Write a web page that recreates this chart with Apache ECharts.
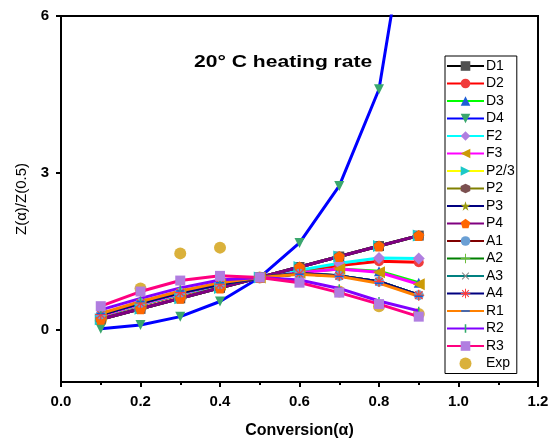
<!DOCTYPE html>
<html>
<head>
<meta charset="utf-8">
<script src="https://cdn.jsdelivr.net/npm/echarts@6/dist/echarts.min.js"></script>
<style>
  html, body { margin: 0; padding: 0; background: #fff; }
  #chart { width: 554px; height: 448px; }
</style>
</head>
<body>
<div id="chart"></div>
<script>
// conversion values (x)
const alpha = [0.1, 0.2, 0.3, 0.4, 0.5, 0.6, 0.7, 0.8, 0.9];

// Z(a)/Z(0.5) for each model
const d1 = [0.2, 0.4, 0.6, 0.8, 1.0, 1.2, 1.4, 1.6, 1.8];
const d2 = [0.26, 0.47, 0.67, 0.85, 1.0, 1.13, 1.23, 1.31, 1.29];
const d3 = [0.27, 0.48, 0.68, 0.85, 1.0, 1.1, 1.16, 1.12, 0.9];
const d4 = [0.02, 0.09, 0.25, 0.54, 1.0, 1.66, 2.75, 4.6, 9.2];
const f2 = [0.27, 0.48, 0.68, 0.86, 1.0, 1.14, 1.27, 1.37, 1.36];
const f3 = [0.27, 0.49, 0.69, 0.86, 1.0, 1.09, 1.16, 1.1, 0.87];
const p23 = [0.2, 0.4, 0.6, 0.8, 1.0, 1.2, 1.4, 1.6, 1.8];
const p2 = [0.2, 0.4, 0.6, 0.8, 1.0, 1.2, 1.4, 1.6, 1.8];
const p3 = [0.2, 0.4, 0.6, 0.8, 1.0, 1.2, 1.4, 1.6, 1.8];
const p4 = [0.2, 0.4, 0.6, 0.8, 1.0, 1.2, 1.4, 1.6, 1.8];
const a1 = [0.29, 0.51, 0.71, 0.87, 1.0, 1.07, 1.03, 0.92, 0.66];
const a2 = [0.29, 0.51, 0.71, 0.87, 1.0, 1.07, 1.03, 0.92, 0.66];
const a3 = [0.29, 0.51, 0.71, 0.87, 1.0, 1.07, 1.03, 0.92, 0.66];
const a4 = [0.29, 0.51, 0.71, 0.87, 1.0, 1.07, 1.03, 0.92, 0.66];
const r1 = [0.31, 0.54, 0.74, 0.9, 1.0, 1.06, 1.02, 0.89, 0.64];
const r2 = [0.38, 0.6, 0.8, 0.95, 1.0, 0.95, 0.79, 0.55, 0.36];
const r3 = [0.45, 0.73, 0.94, 1.03, 1.0, 0.9, 0.71, 0.49, 0.25];
const expData = [0.17, 0.79, 1.46, 1.57, 1.0, 1.11, 0.73, 0.45, 0.3];

const xTicks = [0, 0.2, 0.4, 0.6, 0.8, 1.0, 1.2];
const yTicks = [0, 3, 6];

// marker shapes; the tiny corner triangles keep a square bounding box for thin marks
const CORNERS = ' M0,0 L0.1,0 L0,0.1 Z M100,100 L99.9,100 L100,99.9 Z';
const HEXAGON = 'path://M50,0 L100,25 L100,75 L50,100 L0,75 L0,25 Z';
const PENTAGON = 'path://M50,0 L100,38 L81,100 L19,100 L0,38 Z';
const STAR = 'path://M50,0 L61,35 L98,35 L68,57 L79,92 L50,70 L21,92 L32,57 L2,35 L39,35 Z';
const PLUS = 'path://M45,0 H55 V45 H100 V55 H55 V100 H45 V55 H0 V45 H45 Z';
const ASTER = 'path://M45,0 H55 V45 H100 V55 H55 V100 H45 V55 H0 V45 H45 Z' +
  ' M18.5,11.5 L88.5,81.5 L81.5,88.5 L11.5,18.5 Z M81.5,11.5 L88.5,18.5 L18.5,88.5 L11.5,81.5 Z';
const BAR_H = 'path://M5,42 H95 V58 H5 Z' + CORNERS;
const BAR_V = 'path://M42,5 H58 V95 H42 Z' + CORNERS;

function pairs(ys) {
  return alpha.map((a, i) => [a, ys[i]]);
}

function lineSeries(name, ys, lineColor, symbol, symbolColor, extra) {
  return Object.assign({
    name: name,
    type: 'line',
    data: pairs(ys),
    symbol: symbol,
    symbolSize: 10,
    lineStyle: { color: lineColor, width: 3 },
    itemStyle: { color: symbolColor },
    emphasis: { disabled: true },
    animation: false
  }, extra || {});
}

const series = [
  lineSeries('D1', d1, '#000000', 'rect', '#505050'),
  lineSeries('D2', d2, '#ff0000', 'circle', '#f03c3c'),
  lineSeries('D3', d3, '#00ff00', 'triangle', '#1f5fd6'),
  lineSeries('D4', d4, '#0000ff', 'triangle', '#3aa76d', { symbolRotate: 180 }),
  lineSeries('F2', f2, '#00ffff', 'diamond', '#b07ee0', { symbolSize: 12 }),
  lineSeries('F3', f3, '#ff00ff', 'triangle', '#cc9a06', { symbolRotate: 90, symbolSize: 12 }),
  lineSeries('P2/3', p23, '#ffff00', 'triangle', '#1cc8c8', { symbolRotate: -90, symbolSize: 12 }),
  lineSeries('P2', p2, '#808000', HEXAGON, '#7b5050'),
  lineSeries('P3', p3, '#000080', STAR, '#9a9a10', { symbolSize: 11 }),
  lineSeries('P4', p4, '#800080', PENTAGON, '#ff6600', { symbolSize: 11 }),
  lineSeries('A1', a1, '#800000', 'circle', '#6a9fd4'),
  lineSeries('A2', a2, '#008000', PLUS, '#66bb33'),
  lineSeries('A3', a3, '#008080', PLUS, '#888888', { symbolRotate: 45 }),
  lineSeries('A4', a4, '#000080', ASTER, '#ff3b3b', { symbolSize: 11 }),
  lineSeries('R1', r1, '#ff8000', BAR_H, '#1060e0', { symbolSize: 9 }),
  lineSeries('R2', r2, '#8000ff', BAR_V, '#2faa6a', { symbolSize: 9 }),
  lineSeries('R3', r3, '#ff0080', 'rect', '#b07ee0'),
  {
    name: 'Exp',
    type: 'scatter',
    data: pairs(expData),
    symbol: 'circle',
    symbolSize: 12,
    itemStyle: { color: '#d19e0a' },
    emphasis: { disabled: true },
    animation: false
  }
];

const chart = echarts.init(document.getElementById('chart'));

chart.setOption({
  animation: false,
  grid: {
    left: 61,
    right: 16,
    top: 16,
    bottom: 66,
    show: true,
    borderColor: '#000',
    borderWidth: 2
  },
  legend: {
    orient: 'vertical',
    left: 445,
    top: 56,
    padding: [3, 2, 3, 1],
    itemWidth: 37,
    itemHeight: 12,
    itemGap: 3.5,
    borderColor: '#000',
    borderWidth: 1,
    borderRadius: 0,
    backgroundColor: '#fff',
    textStyle: {
      fontFamily: 'Liberation Sans, Arial, sans-serif',
      fontSize: 14,
      lineHeight: 14,
      color: '#000',
      padding: [0, 0, 0, -3]
    },
    data: series.map((s) => s.name)
  },
  graphic: [
    {
      type: 'text',
      left: 194,
      top: 54,
      scaleX: 1.24,
      style: {
        text: '20° C heating rate',
        font: 'bold 17px "Liberation Sans", Arial, sans-serif',
        fill: '#000'
      }
    }
  ],
  xAxis: {
    type: 'value',
    min: 0,
    max: 1.2,
    interval: 0.2,
    name: 'Conversion(α)',
    nameLocation: 'middle',
    nameGap: 41,
    nameTextStyle: {
      fontFamily: 'Liberation Sans, Arial, sans-serif',
      fontSize: 16,
      fontWeight: 'bold',
      color: '#000'
    },
    axisLine: { show: true, onZero: false, lineStyle: { color: '#000', width: 2 } },
    axisTick: { show: true, inside: false, length: 5, lineStyle: { width: 2 } },
    minorTick: { show: true, splitNumber: 2, length: 3, lineStyle: { color: '#000', width: 2 } },
    splitLine: { show: false },
    axisLabel: {
      margin: 12,
      fontFamily: 'Liberation Sans, Arial, sans-serif',
      fontSize: 15,
      fontWeight: 'bold',
      color: '#000',
      formatter: (v) => v.toFixed(1),
      customValues: xTicks
    }
  },
  yAxis: {
    type: 'value',
    min: -1,
    max: 6,
    name: 'Z(α)/Z(0.5)',
    nameLocation: 'middle',
    nameGap: 29,
    nameTextStyle: {
      fontFamily: 'Liberation Sans, Arial, sans-serif',
      fontSize: 15,
      color: '#000'
    },
    axisLine: { show: true, onZero: false, lineStyle: { color: '#000', width: 2 } },
    axisTick: { show: true, inside: false, length: 5, lineStyle: { width: 2 }, customValues: yTicks },
    splitLine: { show: false },
    axisLabel: {
      margin: 12,
      fontFamily: 'Liberation Sans, Arial, sans-serif',
      fontSize: 15,
      fontWeight: 'bold',
      color: '#000',
      customValues: yTicks
    }
  },
  series: series
});
</script>
</body>
</html>
